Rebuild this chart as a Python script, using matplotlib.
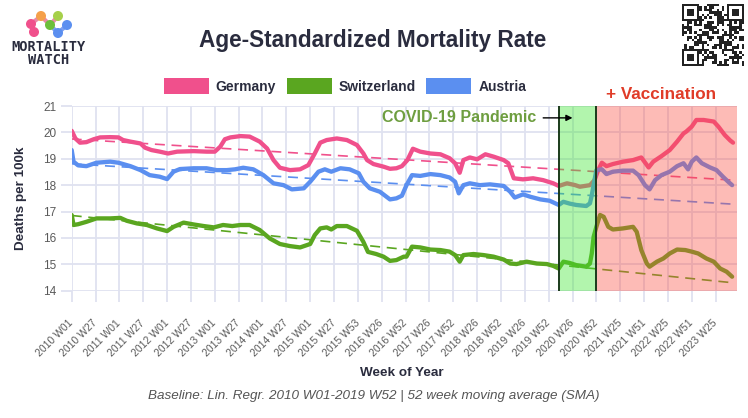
import numpy as np
import matplotlib
matplotlib.use("Agg")
import matplotlib.pyplot as plt
from matplotlib.patches import Patch, Rectangle, Circle

plt.rcParams['font.family'] = ['Liberation Sans', 'DejaVu Sans']

# weeks counted from 2010 W01, values = deaths per 100k (52 week SMA)
de_weeks = [0, 4, 9, 16, 24, 31, 42, 51, 56, 64, 75, 80, 87, 96, 105, 115, 133, 147, 156, 162,
            167, 173, 184, 194, 205, 213, 220, 227, 238, 249, 258, 265, 271, 278, 289, 300, 311,
            318, 322, 329, 340, 347, 354, 360, 366, 372, 380, 391, 402, 412, 418, 423, 427, 434,
            442, 451, 460, 471, 476, 482, 492, 503, 514, 525, 531, 540, 549, 554, 565, 570, 574,
            578, 583, 590, 601, 612, 621, 629, 634, 643, 652, 660, 667, 670, 676, 681, 689, 700,
            705, 712, 718, 721]
de_vals = [20.06, 19.77, 19.61, 19.63, 19.74, 19.81, 19.82, 19.81, 19.71, 19.65, 19.58, 19.42,
           19.33, 19.27, 19.2, 19.27, 19.29, 19.27, 19.27, 19.46, 19.74, 19.81, 19.86, 19.84,
           19.65, 19.39, 18.95, 18.66, 18.57, 18.6, 18.76, 19.2, 19.61, 19.71, 19.77, 19.71,
           19.52, 19.2, 18.95, 18.8, 18.7, 18.62, 18.64, 18.72, 18.95, 19.38, 19.27, 19.2, 19.17,
           19.02, 18.83, 18.47, 18.95, 19.05, 18.98, 19.17, 19.08, 18.95, 18.83, 18.26, 18.22,
           18.26, 18.19, 18.07, 17.97, 18.07, 18.0, 17.94, 18.0, 18.19, 18.57, 18.85, 18.72, 18.8,
           18.89, 18.95, 19.05, 18.67, 18.89, 19.1, 19.33, 19.65, 19.96, 20.03, 20.22, 20.47,
           20.47, 20.41, 20.22, 19.9, 19.69, 19.61]

at_weeks = [0, 2, 7, 16, 27, 42, 51, 64, 75, 85, 96, 104, 111, 118, 133, 147, 158, 169, 178, 187,
            198, 209, 220, 231, 240, 253, 260, 269, 276, 283, 293, 303, 313, 318, 325, 336, 347,
            354, 360, 365, 371, 380, 391, 402, 412, 418, 422, 427, 434, 445, 456, 471, 478, 483,
            492, 500, 511, 521, 531, 536, 543, 550, 561, 565, 567, 569, 572, 578, 583, 590, 601,
            612, 618, 625, 630, 636, 643, 652, 660, 667, 672, 676, 681, 687, 696, 703, 710, 716,
            720]
at_vals = [19.33, 18.89, 18.75, 18.72, 18.85, 18.89, 18.85, 18.72, 18.57, 18.38, 18.32, 18.23,
           18.51, 18.61, 18.64, 18.64, 18.57, 18.57, 18.6, 18.66, 18.6, 18.38, 18.07, 18.0, 17.84,
           17.88, 18.13, 18.51, 18.6, 18.51, 18.64, 18.6, 18.45, 18.13, 17.88, 17.75, 17.46, 17.5,
           17.6, 18.0, 18.38, 18.35, 18.42, 18.38, 18.29, 18.13, 17.69, 18.0, 18.07, 18.0, 18.03,
           17.97, 17.75, 17.53, 17.65, 17.56, 17.46, 17.41, 17.25, 17.37, 17.3, 17.25, 17.21,
           17.31, 17.62, 18.0, 18.57, 18.6, 18.42, 18.51, 18.55, 18.55, 18.38, 18.0, 17.84, 18.19,
           18.38, 18.51, 18.72, 18.83, 18.6, 18.89, 19.05, 18.83, 18.67, 18.57, 18.32, 18.12,
           18.0]

ch_weeks = [0, 2, 7, 16, 27, 42, 53, 60, 71, 82, 93, 104, 111, 122, 133, 144, 155, 165, 175, 184,
            194, 205, 216, 227, 238, 249, 260, 265, 271, 278, 283, 289, 300, 311, 318, 323, 332,
            340, 347, 354, 362, 365, 371, 380, 391, 402, 412, 418, 423, 427, 438, 449, 460, 471,
            478, 485, 496, 507, 518, 525, 531, 536, 543, 550, 561, 565, 567, 569, 572, 576, 580,
            585, 590, 601, 612, 616, 621, 627, 630, 638, 645, 652, 660, 669, 676, 683, 692, 700,
            707, 714, 720]
ch_vals = [16.87, 16.49, 16.52, 16.61, 16.74, 16.74, 16.76, 16.65, 16.55, 16.49, 16.36, 16.26,
           16.42, 16.58, 16.51, 16.45, 16.4, 16.49, 16.45, 16.49, 16.49, 16.3, 15.98, 15.77,
           15.69, 15.64, 15.77, 16.11, 16.36, 16.4, 16.32, 16.45, 16.45, 16.27, 15.85, 15.47,
           15.39, 15.29, 15.13, 15.16, 15.29, 15.29, 15.67, 15.64, 15.56, 15.54, 15.48, 15.35,
           15.1, 15.35, 15.39, 15.35, 15.29, 15.18, 15.03, 15.01, 15.1, 15.03, 15.01, 14.94,
           14.84, 15.1, 15.05, 14.97, 14.91, 15.03, 15.41, 16.04, 16.42, 16.87, 16.8, 16.42,
           16.32, 16.36, 16.42, 16.23, 15.54, 15.03, 14.91, 15.1, 15.22, 15.41, 15.56, 15.54,
           15.48, 15.41, 15.22, 15.1, 14.84, 14.72, 14.53]

# linear regression baselines (start / end of the dashed lines)
base_weeks = [0, 721]
de_base = [19.75, 18.19]
at_base = [18.81, 17.28]
ch_base = [16.85, 14.3]

pandemic_start = 531
vaccination_start = 572
x_end = 725

tick_labels = ["2010 W01", "2010 W27", "2011 W01", "2011 W27", "2012 W01", "2012 W27",
               "2013 W01", "2013 W27", "2014 W01", "2014 W27", "2015 W01", "2015 W27",
               "2015 W53", "2016 W26", "2016 W52", "2017 W26", "2017 W52", "2018 W26",
               "2018 W52", "2019 W26", "2019 W52", "2020 W26", "2020 W52", "2021 W25",
               "2021 W51", "2022 W25", "2022 W51", "2023 W25"]
tick_pos = np.arange(len(tick_labels)) * 26

c_de = "#f0508c"
c_ch = "#5aa620"
c_at = "#5b8ff0"
dark = "#2a2c3e"
grid_c = "#dfe2f0"

fig = plt.figure(figsize=(7.48, 4.18), dpi=100)
ax = fig.add_axes([71.7 / 748, 1 - 290.7 / 418, 665 / 748, 184.7 / 418])

for weeks, vals, base, c in [(de_weeks, de_vals, de_base, c_de),
                             (ch_weeks, ch_vals, ch_base, c_ch),
                             (at_weeks, at_vals, at_base, c_at)]:
    ax.plot(base_weeks, base, color=c, lw=1.2, dashes=(6, 4), zorder=2)
    ax.plot(weeks, vals, color=c, lw=3.1, solid_joinstyle='round', solid_capstyle='round', zorder=3)

# shaded periods drawn on top, so the lines take their tint
ax.axvspan(pandemic_start, vaccination_start, color=(0.25, 0.9, 0.2), alpha=0.4, lw=0, zorder=4)
ax.axvspan(vaccination_start, x_end, color=(0.98, 0.3, 0.25), alpha=0.38, lw=0, zorder=4)
ax.axvline(pandemic_start, color="#1b3b1b", lw=1.4, zorder=5)
ax.axvline(vaccination_start, color="#1b3b1b", lw=1.4, zorder=5)

ax.text(506, 20.55, "COVID-19 Pandemic", color="#6e9e40", fontsize=11.5, fontweight='bold',
        ha='right', va='center', zorder=6)
ax.annotate("", xy=(549, 20.55), xytext=(511, 20.55),
            arrowprops=dict(arrowstyle='-|>', color='black', lw=1, mutation_scale=9), zorder=6)
ax.text(642, 21.45, "+ Vaccination", color="#e03c28", fontsize=12.3, fontweight='bold',
        ha='center', va='center', clip_on=False)

ax.set_xlim(0, x_end)
ax.set_ylim(14, 21)
ax.set_yticks(range(14, 22))
ax.set_xticks(tick_pos)
ax.set_xticklabels(tick_labels, rotation=45, ha='right', va='center', rotation_mode='anchor')
ax.grid(True, color=grid_c, lw=1.3)
ax.set_axisbelow(True)
for s in ax.spines.values():
    s.set_visible(False)
ax.tick_params(axis='both', length=8, width=1.3, color=grid_c, labelcolor="#5a5a5a")
ax.tick_params(axis='x', labelsize=7.5, pad=14)
ax.tick_params(axis='y', labelsize=8.5, pad=3)
ax.set_ylabel("Deaths per 100k", fontsize=9.7, fontweight='bold', color=dark)
ax.yaxis.set_label_coords(-0.067, 0.5)

fig.text(373 / 748, 1 - 41 / 418, "Age-Standardized Mortality Rate", fontsize=16.3,
         fontweight='bold', color=dark, ha='center', va='center')
fig.text(402 / 748, 1 - 373 / 418, "Week of Year", fontsize=9.7, fontweight='bold',
         color=dark, ha='center', va='center')
fig.text(374 / 748, 1 - 396 / 418,
         "Baseline: Lin. Regr. 2010 W01-2019 W52 | 52 week moving average (SMA)",
         fontsize=9.7, style='italic', color="#555555", ha='center', va='center')

handles = [Patch(facecolor=c, edgecolor='none') for c in (c_de, c_ch, c_at)]
fig.legend(handles, ["Germany", "Switzerland", "Austria"], loc='center', ncol=3,
           bbox_to_anchor=(345 / 748, 1 - 86 / 418), frameon=False,
           prop={'weight': 'bold', 'size': 10}, labelcolor=dark,
           handlelength=3.25, handleheight=1.3, handletextpad=0.5, columnspacing=0.75)

# logo and QR code, drawn in pixel coordinates
deco = fig.add_axes([0, 0, 1, 1], zorder=10)
deco.set_xlim(0, 748)
deco.set_ylim(418, 0)
deco.axis('off')
deco.patch.set_alpha(0)

logo_pts = [(31, 24, "#f0508c"), (41, 16, "#f5a04a"), (50, 25, "#6cbf3a"),
            (58, 16, "#a6d04a"), (67, 25, "#5b8ff0"), (58, 33, "#5b8ff0"), (34, 32, "#f0508c")]
deco.plot([34, 31, 41, 50, 58], [32, 24, 16, 25, 16], color="#e88aa8", lw=3, zorder=1)
deco.plot([50, 58, 67], [25, 33, 25], color="#7da0f0", lw=3, zorder=1)
for x, y, c in logo_pts:
    deco.add_patch(Circle((x, y), 4.3, color=c, zorder=2))
deco.text(49, 47, "MORTALITY", fontsize=9.8, fontweight='bold', color=dark,
          family='DejaVu Sans Mono', ha='center', va='center')
deco.text(49, 60, "WATCH", fontsize=9.8, fontweight='bold', color=dark,
          family='DejaVu Sans Mono', ha='center', va='center')

n_mod = 25
qx, qy, qs = 682, 4, 62 / n_mod
for r in range(n_mod):
    for c in range(n_mod):
        finder = None
        for fr, fc in [(0, 0), (0, n_mod - 7), (n_mod - 7, 0)]:
            if fr <= r < fr + 7 and fc <= c < fc + 7:
                rr, cc = r - fr, c - fc
                finder = rr in (0, 6) or cc in (0, 6) or (2 <= rr <= 4 and 2 <= cc <= 4)
        if finder is None:
            on = ((r * c) % 3 + (r + c) % 2 + (r * r + c) % 5) % 2 == 0
        else:
            on = finder
        if on:
            deco.add_patch(Rectangle((qx + c * qs, qy + r * qs), qs, qs, color="#222222", lw=0))

fig.savefig("out.png", dpi=100)
